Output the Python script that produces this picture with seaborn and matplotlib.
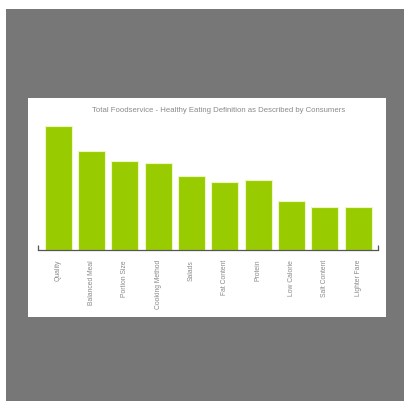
import matplotlib
matplotlib.use("Agg")
import matplotlib.pyplot as plt
from matplotlib.patches import Rectangle
import pandas as pd
import seaborn as sns

categories = ["Quality", "Balanced Meal", "Portion Size", "Cooking Method", "Salads",
              "Fat Content", "Protein", "Low Calorie", "Salt Content", "Lighter Fare"]
values = [61.7, 49.3, 44.2, 43.2, 36.8, 33.8, 35.0, 24.5, 21.3, 21.3]
title = "Total Foodservice - Healthy Eating Definition as Described by Consumers"

W, H = 404, 401
sns.set_theme(style="white")
plt.rcParams["font.family"] = ["Liberation Sans", "DejaVu Sans"]

fig = plt.figure(figsize=(W / 100, H / 100), dpi=100, facecolor="white")

# gray backdrop with thin white strip top/left, then the white chart panel
fig.patches.append(Rectangle((6 / W, 0), 1, 1 - 9 / H, transform=fig.transFigure,
                             facecolor="#777777", edgecolor="none", zorder=-2))
fig.patches.append(Rectangle((28 / W, 1 - 317 / H), 358 / W, 219 / H,
                             transform=fig.transFigure, facecolor="white",
                             edgecolor="none", zorder=-1))

# axes: x from 38px to 378px, baseline at 249.5px, top at 100px
ax = fig.add_axes([38 / W, 1 - 249.5 / H, 340 / W, 149.5 / H])
ax.patch.set_alpha(0)

df = pd.DataFrame({"category": categories, "value": values})
sns.barplot(data=df, x="category", y="value", color="#99cc00", saturation=1,
            width=0.81, edgecolor="#eef6c4", linewidth=0.8, ax=ax)

ax.set_xlim(-0.6, 9.6)
ax.set_ylim(0, 74.75)
ax.set_xlabel("")
ax.set_ylabel("")
ax.set_yticks([])
for s in ["top", "right", "left"]:
    ax.spines[s].set_visible(False)
ax.spines["bottom"].set_color("#555555")
ax.spines["bottom"].set_linewidth(0.9)
# little upturned ends of the baseline
ax.vlines(ax.get_xlim(), 0, 2.2, colors="#555555", linewidth=0.9, clip_on=False)

ax.tick_params(axis="x", length=0, pad=7.5, labelsize=4.9, labelcolor="#8a8a8a")
plt.setp(ax.get_xticklabels(), rotation=90, va="top", ha="center")

fig.text(218.5 / W, 1 - 110 / H, title, ha="center", va="center",
         fontsize=5.6, color="#8a8a8a")

fig.savefig("out.png", dpi=100, facecolor=fig.get_facecolor())
